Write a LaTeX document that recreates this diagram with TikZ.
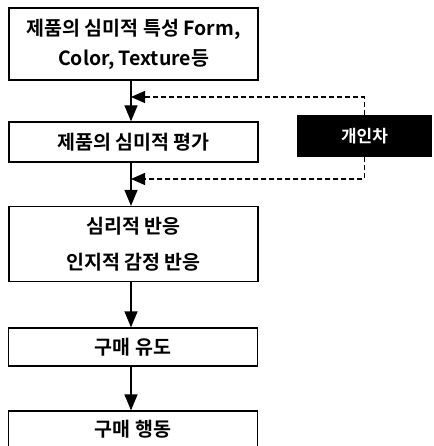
\documentclass[tikz,border=0pt]{standalone}
\usepackage{fontspec}
\setmainfont{Noto Sans CJK KR}[BoldFont={Noto Sans CJK KR Bold}]
\usetikzlibrary{arrows.meta}
\begin{document}
\begin{tikzpicture}[x=1pt,y=-1pt,
  box/.style={draw=black,line width=1.3pt,minimum width=249pt,inner sep=0pt,align=center,font=\bfseries\fontsize{19.5}{30}\selectfont},
  blk/.style={fill=black,text=white,inner sep=0pt,font=\bfseries\fontsize{17}{20}\selectfont},
  flow/.style={line width=1.3pt,-{Triangle[length=16pt,width=13pt]}},
  fb/.style={line width=1.4pt,dash pattern=on 5pt off 3pt,-{Triangle[length=14pt,width=12pt]}}]
\useasboundingbox (0,0) rectangle (433,446);
\node[box,minimum height=72pt] (b1) at (133.5,44) {제품의 심미적 특성 Form,\\Color, Texture등};
\node[box,minimum height=40pt] (b2) at (133.5,142) {제품의 심미적 평가};
\node[box,minimum height=75pt,font=\bfseries\fontsize{19.5}{36}\selectfont] (b3) at (133.5,244) {심리적 반응\\인지적 감정 반응};
\node[box,minimum height=38pt] (b4) at (133,347) {구매 유도};
\node[box,minimum height=36pt] (b5) at (133,429) {구매 행동};
\node[blk,minimum width=135pt,minimum height=42pt] (k) at (364.5,136) {개인차};
\coordinate (j1) at (131,97);
\coordinate (j2) at (131,179);
\draw[flow] (b1.south -| j1) -- (b2.north -| j1);
\draw[flow] (b2.south -| j2) -- (b3.north -| j2);
\draw[flow] (b3.south -| j2) -- (b4.north -| j2);
\draw[flow] (b4.south -| j2) -- (b5.north -| j2);
\draw[fb] (k.north) |- (j1);
\draw[fb] (k.south) |- (j2);
\end{tikzpicture}
\end{document}
